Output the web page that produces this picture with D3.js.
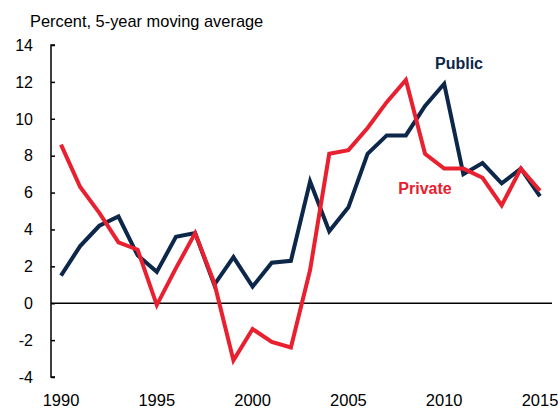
<!DOCTYPE html>
<html>
<head>
<meta charset="utf-8">
<script src="https://cdn.jsdelivr.net/npm/d3@7"></script>
<style>
  body { margin: 0; background: #fff; }
  text { font-family: "Liberation Sans", Arial, sans-serif; }
</style>
</head>
<body>
<div id="chart-container"></div>
<script>

// Chart data.
const years = d3.range(1990, 2016);
const publicValues = [1.5, 3.1, 4.2, 4.7, 2.6, 1.7, 3.6, 3.8, 1.0, 2.5, 0.9, 2.2, 2.3, 6.6, 3.9, 5.2, 8.1, 9.1, 9.1, 10.7, 11.9, 7.0, 7.6, 6.5, 7.3, 5.8];
const privateValues = [8.6, 6.3, 4.9, 3.3, 2.9, -0.1, 1.9, 3.8, 1.1, -3.1, -1.4, -2.1, -2.4, 1.8, 8.1, 8.3, 9.5, 10.9, 12.1, 8.1, 7.3, 7.3, 6.8, 5.3, 7.3, 6.1];
const yTicks = [-4, -2, 0, 2, 4, 6, 8, 10, 12, 14];
const xTicks = [1990, 1995, 2000, 2005, 2010, 2015];

const fWidth = 558, fHeight = 410;
const navy = "#0c2749", red = "#e8202f";

// Append svg canvas.
const svg = d3.select("#chart-container").append("svg")
  .attr("width", fWidth)
  .attr("height", fHeight);

// Scales.
const xScale = d3.scaleLinear().domain([1990, 2015]).range([61, 540]);
const yScale = d3.scaleLinear().domain([-4, 14]).range([377, 45]);
const axisX = 51;

// Title.
svg.append("text")
  .attr("x", 30)
  .attr("y", 27)
  .attr("font-size", 16.4)
  .attr("fill", "#000")
  .text("Percent, 5-year moving average");

// Y axis (ticks point inward).
const yAxis = svg.append("g")
  .attr("transform", `translate(${ axisX } 0)`)
  .call(d3.axisRight(yScale).tickValues(yTicks).tickSize(4).tickFormat(""));
yAxis.select(".domain").attr("d", `M4,${ yScale(14) }H0V${ yScale(-4) }H4`).attr("stroke", "#000").attr("stroke-width", 1.5);
yAxis.selectAll(".tick line").attr("stroke", "#000").attr("stroke-width", 1.5);

svg.append("g").selectAll("text")
  .data(yTicks)
  .enter()
  .append("text")
    .attr("x", 33)
    .attr("y", d => yScale(d))
    .attr("dy", "0.36em")
    .attr("text-anchor", "end")
    .attr("font-size", 16)
    .text(d => d);

// Zero line.
svg.append("line")
  .attr("x1", axisX)
  .attr("x2", 552)
  .attr("y1", yScale(0))
  .attr("y2", yScale(0))
  .attr("stroke", "#000")
  .attr("stroke-width", 1.5);

// X labels.
svg.append("g").selectAll("text")
  .data(xTicks)
  .enter()
  .append("text")
    .attr("x", d => xScale(d))
    .attr("y", 406)
    .attr("text-anchor", "middle")
    .attr("font-size", 16.5)
    .text(d => d);

// Lines.
const pathGen = d3.line()
  .x((d, i) => xScale(years[i]))
  .y(d => yScale(d));

svg.append("path")
  .attr("d", pathGen(publicValues))
  .attr("fill", "none")
  .attr("stroke", navy)
  .attr("stroke-width", 4)
  .attr("stroke-linejoin", "miter");

svg.append("path")
  .attr("d", pathGen(privateValues))
  .attr("fill", "none")
  .attr("stroke", red)
  .attr("stroke-width", 4)
  .attr("stroke-linejoin", "miter");

// Series labels.
svg.append("text")
  .attr("x", 459)
  .attr("y", 69)
  .attr("text-anchor", "middle")
  .attr("font-size", 16)
  .attr("font-weight", "bold")
  .attr("fill", navy)
  .text("Public");

svg.append("text")
  .attr("x", 425)
  .attr("y", 194)
  .attr("text-anchor", "middle")
  .attr("font-size", 16)
  .attr("font-weight", "bold")
  .attr("fill", red)
  .text("Private");

</script>
</body>
</html>
